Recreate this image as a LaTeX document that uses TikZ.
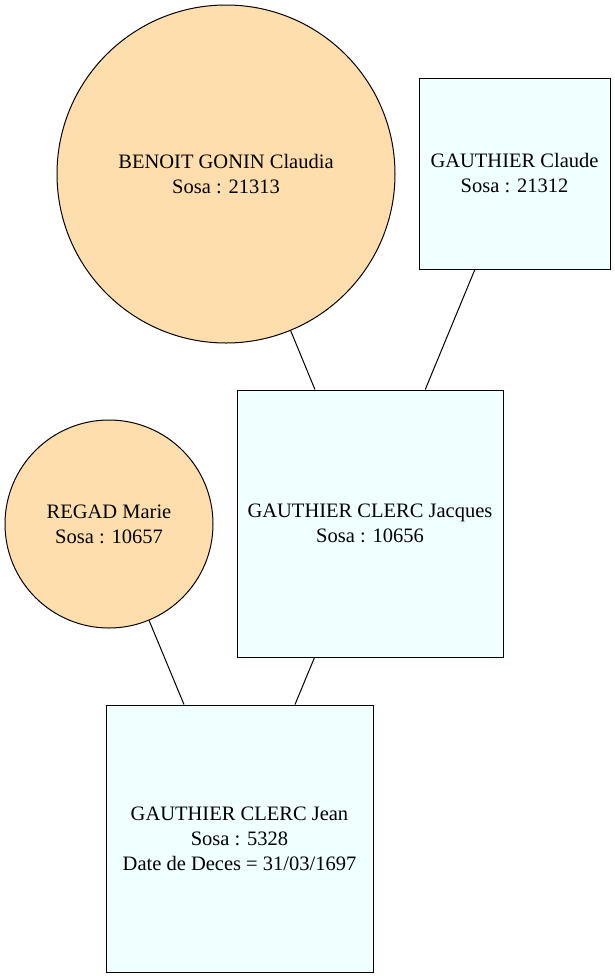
\documentclass[tikz,border=0pt]{standalone}
\usepackage{fontspec}
\setmainfont{Liberation Serif}
\definecolor{wheatfill}{RGB}{255,222,173}
\definecolor{azurefill}{RGB}{240,255,255}
\begin{document}
\begin{tikzpicture}[x=1pt,y=-1pt,
  lbl/.style={align=center,font=\fontsize{20.5}{25}\selectfont,inner sep=0pt,line width=1pt,draw=black},
  person/.style={lbl,circle,fill=wheatfill},
  man/.style={lbl,rectangle,fill=azurefill},
  edge/.style={line width=1pt,draw=black}]
\useasboundingbox (0,0) rectangle (615,978);
\node[person,minimum size=338pt] (claudia) at (226,174) {BENOIT GONIN Claudia\\Sosa : 21313};
\node[man,minimum width=191pt,minimum height=191pt] (claude) at (514.5,173.5) {GAUTHIER Claude\\Sosa : 21312};
\node[man,minimum width=266pt,minimum height=267pt] (jacques) at (370,523.5) {GAUTHIER CLERC Jacques\\Sosa : 10656};
\node[person,minimum size=208pt] (marie) at (109,524) {REGAD Marie\\Sosa : 10657};
\node[man,minimum width=267pt,minimum height=267pt] (jean) at (239.5,838.5) {GAUTHIER CLERC Jean\\Sosa : 5328\\Date de Deces = 31/03/1697};
\draw[edge] (claudia) -- (jacques);
\draw[edge] (claude) -- (jacques);
\draw[edge] (marie) -- (jean);
\draw[edge] (jacques) -- (jean);
\end{tikzpicture}
\end{document}
